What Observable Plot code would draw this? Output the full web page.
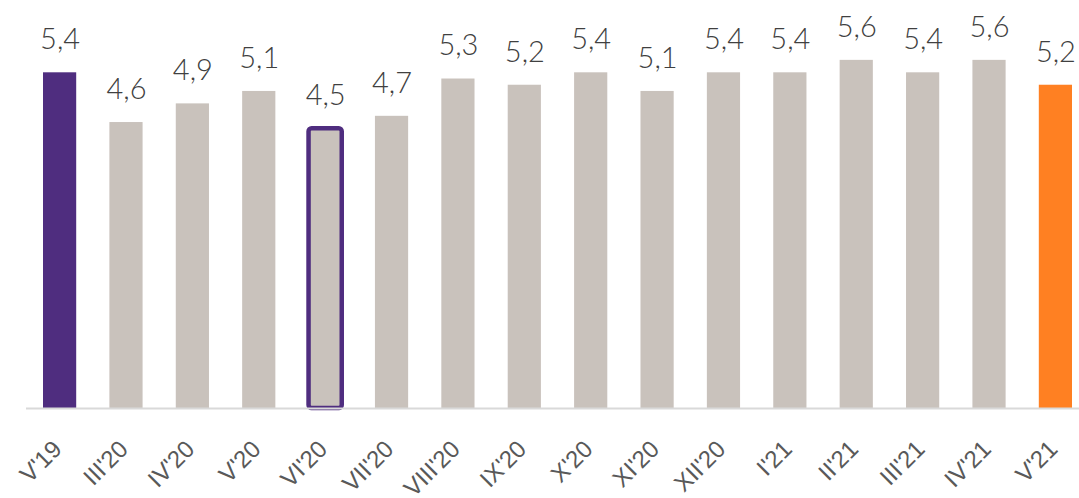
<!DOCTYPE html>
<html>
<head>
<meta charset="utf-8">
<script src="https://cdn.jsdelivr.net/npm/d3@7"></script>
<script src="https://cdn.jsdelivr.net/npm/@observablehq/plot@0.6"></script>
<style>
  html, body { margin: 0; padding: 0; background: #fff; }
  #chart svg { display: block; }
</style>
</head>
<body>
<div id="chart"></div>
<script>
const categories = ["V'19","III'20","IV'20","V'20","VI'20","VII'20","VIII'20","IX'20","X'20","XI'20","XII'20","I'21","II'21","III'21","IV'21","V'21"];
const values = [5.4, 4.6, 4.9, 5.1, 4.5, 4.7, 5.3, 5.2, 5.4, 5.1, 5.4, 5.4, 5.6, 5.4, 5.6, 5.2];
const highlightFirst = "V'19";
const highlightLast = "V'21";
const outlined = "VI'20";

const data = categories.map((c, i) => ({cat: c, value: values[i]}));
const colorOf = d => d.cat === highlightFirst ? "#4F2D7F" : d.cat === highlightLast ? "#FF8022" : "#C9C2BC";
const fmt = v => v.toFixed(1).replace(".", ",");

const chart = Plot.plot({
  width: 1079,
  height: 498,
  marginLeft: 43,
  marginRight: 7,
  marginTop: 35,
  marginBottom: 90,
  x: {domain: categories, paddingInner: 0.5, paddingOuter: 0, round: false, axis: null},
  y: {domain: [0, 6], axis: null},
  style: {fontFamily: "Liberation Sans, Arial, sans-serif", background: "#fff"},
  marks: [
    Plot.barY(data, {x: "cat", y: "value", fill: colorOf}),
    Plot.barY(data.filter(d => d.cat === outlined), {x: "cat", y: "value", fill: "#C9C2BC", stroke: "#4F2D7F", strokeWidth: 4.5, rx: 3}),
    Plot.ruleY([0], {stroke: "#D9D9D9", strokeWidth: 2, insetLeft: -17, insetRight: -7}),
    Plot.text(data, {x: "cat", y: "value", text: d => fmt(d.value), dy: -33, fontSize: 29, fill: "#404040", fontFamily: "Lato, sans-serif", fontWeight: 300}),
    Plot.text(data, {x: "cat", frameAnchor: "bottom", text: "cat", rotate: -45, textAnchor: "end", lineAnchor: "bottom", dx: 3, dy: 42, fontSize: 24, fill: "#595959", fontFamily: "Liberation Sans, Arial, sans-serif"})
  ]
});
document.getElementById("chart").appendChild(chart);
</script>
</body>
</html>
